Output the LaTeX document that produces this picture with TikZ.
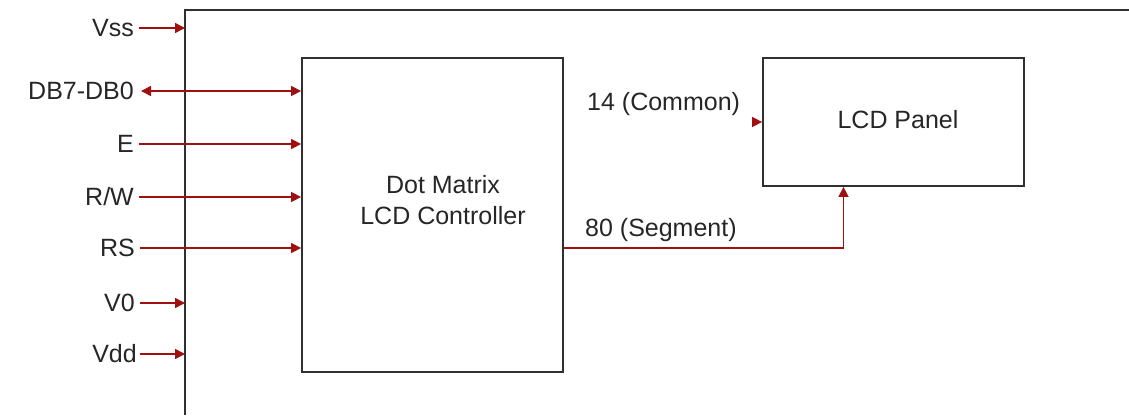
\documentclass[tikz,border=0pt]{standalone}
\usepackage{fontspec}
\setmainfont{Liberation Sans}
\usetikzlibrary{arrows.meta}
\definecolor{sigred}{HTML}{A01010}
\definecolor{boxgray}{HTML}{303030}
\tikzset{
  box/.style={draw=boxgray, line width=1.8pt, fill=none, inner sep=0pt},
  sig/.style={draw=sigred, line width=1.5pt},
  tip/.style={-{Triangle[length=10pt,width=10pt,fill=sigred]}},
  dtip/.style={{Triangle[length=10pt,width=10pt,fill=sigred]}-{Triangle[length=10pt,width=10pt,fill=sigred]}},
  lab/.style={font=\fontsize{25}{29}\selectfont, text=black!85, inner sep=0pt, text height=17pt, text depth=0pt},
}
\begin{document}
\begin{tikzpicture}[x=1pt,y=1pt]
\useasboundingbox (0,0) rectangle (1129,-415);
% outer frame (partially visible)
\coordinate (ftl) at (185,-10);
\coordinate (fbl) at (185,-415);
\coordinate (ftr) at (1129,-10);
\draw[boxgray, line width=1.8pt] (fbl) -- (ftl) -- (ftr);
% controller
\node[box, minimum width=261pt, minimum height=314pt] (ctrl) at (432.5,-215) {};
\node[lab, align=center, text height=, font=\fontsize{25}{31}\selectfont] (ctxt) at (443,-200) {Dot Matrix\\LCD Controller};
% LCD panel
\node[box, minimum width=261pt, minimum height=128pt] (panel) at (893.5,-122) {};
\node[lab] (ptxt) at (898,-120) {LCD Panel};
% pin labels
\node[lab, anchor=east] (vss) at (134,-28) {Vss};
\node[lab, anchor=east] (db) at (134,-91) {DB7-DB0};
\node[lab, anchor=east] (e) at (134,-144) {E};
\node[lab, anchor=east] (rw) at (134,-197) {R/W};
\node[lab, anchor=east] (rs) at (135,-248) {RS};
\node[lab, anchor=east] (v0) at (135,-303) {V0};
\node[lab, anchor=east] (vdd) at (137,-354) {Vdd};
% pin connectors
\draw[sig, tip] ([xshift=5pt]vss.east) -- (vss.east -| ftl);
\draw[sig, dtip] ([xshift=7pt]db.east) -- (db.east -| ctrl.west);
\draw[sig, tip] ([xshift=5pt]e.east) -- (e.east -| ctrl.west);
\draw[sig, tip] ([xshift=5pt]rw.east) -- (rw.east -| ctrl.west);
\draw[sig, tip] ([xshift=5pt]rs.east) -- (rs.east -| ctrl.west);
\draw[sig, tip] ([xshift=5pt]v0.east) -- (v0.east -| ftl);
\draw[sig, tip] ([xshift=3pt]vdd.east) -- (vdd.east -| ftl);
% common
\node[lab, anchor=west] (com) at (587,-102) {14 (Common)};
\coordinate (cin) at ([xshift=-10pt]panel.west);
\draw[sig, tip] (cin) -- (panel.west);
% segment
\node[lab, anchor=west] (seg) at (585,-228) {80 (Segment)};
\coordinate (segturn) at ([xshift=-50pt]panel.south |- rs.east);
\draw[sig, tip] (ctrl.east |- rs.east) -- (segturn) -- ([xshift=-50pt]panel.south);
\end{tikzpicture}
\end{document}
